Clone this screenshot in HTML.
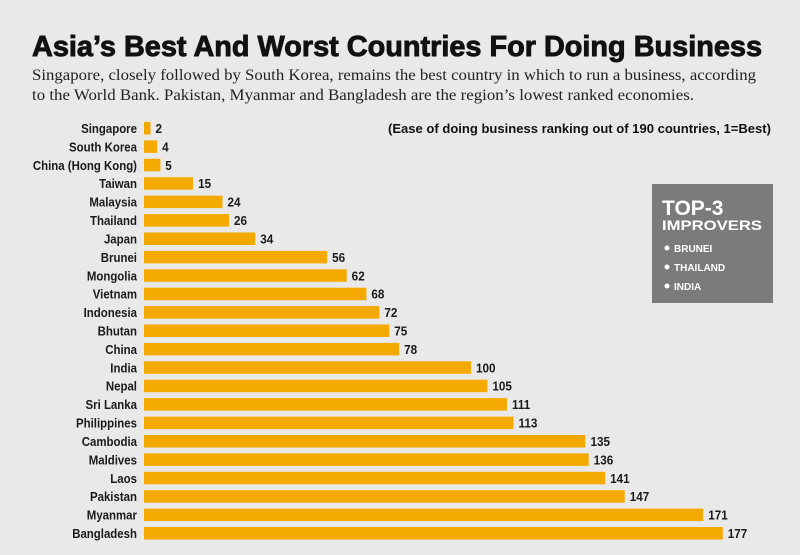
<!DOCTYPE html>
<html><head><style>body{margin:0;background:#e9e9e9;}svg{display:block}</style></head><body>
<svg width="800" height="555" xmlns="http://www.w3.org/2000/svg">
<rect width="800" height="555" fill="#e9e9e9"/>
<text x="32" y="56" font-family="Liberation Sans, sans-serif" font-weight="bold" font-size="29" textLength="730" lengthAdjust="spacingAndGlyphs" fill="#111" stroke="#111" stroke-width="0.9">Asia’s Best And Worst Countries For Doing Business</text>
<text x="32" y="80" font-family="Liberation Serif, serif" font-size="16" textLength="724" lengthAdjust="spacingAndGlyphs" fill="#222">Singapore, closely followed by South Korea, remains the best country in which to run a business, according</text>
<text x="32" y="100" font-family="Liberation Serif, serif" font-size="16" textLength="662" lengthAdjust="spacingAndGlyphs" fill="#222">to the World Bank. Pakistan, Myanmar and Bangladesh are the region’s lowest ranked economies.</text>
<text x="388" y="133" font-family="Liberation Sans, sans-serif" font-weight="bold" font-size="12.5" textLength="383" lengthAdjust="spacingAndGlyphs" fill="#111">(Ease of doing business ranking out of 190 countries, 1=Best)</text>
<rect x="652" y="184" width="121" height="119" fill="#7b7b7b"/>
<g font-family="Liberation Sans, sans-serif" font-weight="bold" fill="#fff">
<text x="662" y="215" font-size="21">TOP-3</text>
<text x="662" y="230" font-size="14" textLength="100" lengthAdjust="spacingAndGlyphs">IMPROVERS</text>
<circle cx="667" cy="248" r="2.5"/><text x="674" y="252" font-size="10">BRUNEI</text>
<circle cx="667" cy="267" r="2.5"/><text x="674" y="271" font-size="10">THAILAND</text>
<circle cx="667" cy="286" r="2.5"/><text x="674" y="290" font-size="10">INDIA</text>
</g>
<g id="bars" font-family="Liberation Sans, sans-serif" font-weight="bold" font-size="13" fill="#1a1a1a"></g>
</svg>
<script>
var d=[["Singapore",2],["South Korea",4],["China (Hong Kong)",5],["Taiwan",15],["Malaysia",24],["Thailand",26],["Japan",34],["Brunei",56],["Mongolia",62],["Vietnam",68],["Indonesia",72],["Bhutan",75],["China",78],["India",100],["Nepal",105],["Sri Lanka",111],["Philippines",113],["Cambodia",135],["Maldives",136],["Laos",141],["Pakistan",147],["Myanmar",171],["Bangladesh",177]];
var g=document.getElementById('bars'),s='';
d.forEach(function(r,i){var y=122+i*18.41,w=r[1]*3.27;
s+='<rect x="144" y="'+y.toFixed(1)+'" width="'+w.toFixed(1)+'" height="12.5" fill="#f4a900"/>';
s+='<text x="137" y="'+(y+11).toFixed(1)+'" text-anchor="end" transform="translate(137 0) scale(0.88 1) translate(-137 0)">'+r[0]+'</text>';
s+='<text x="'+(149+w).toFixed(1)+'" y="'+(y+11).toFixed(1)+'" transform="translate('+(149+w).toFixed(1)+' 0) scale(0.9 1) translate(-'+(149+w).toFixed(1)+' 0)">'+r[1]+'</text>';});
g.innerHTML=s;
</script>
</body></html>
